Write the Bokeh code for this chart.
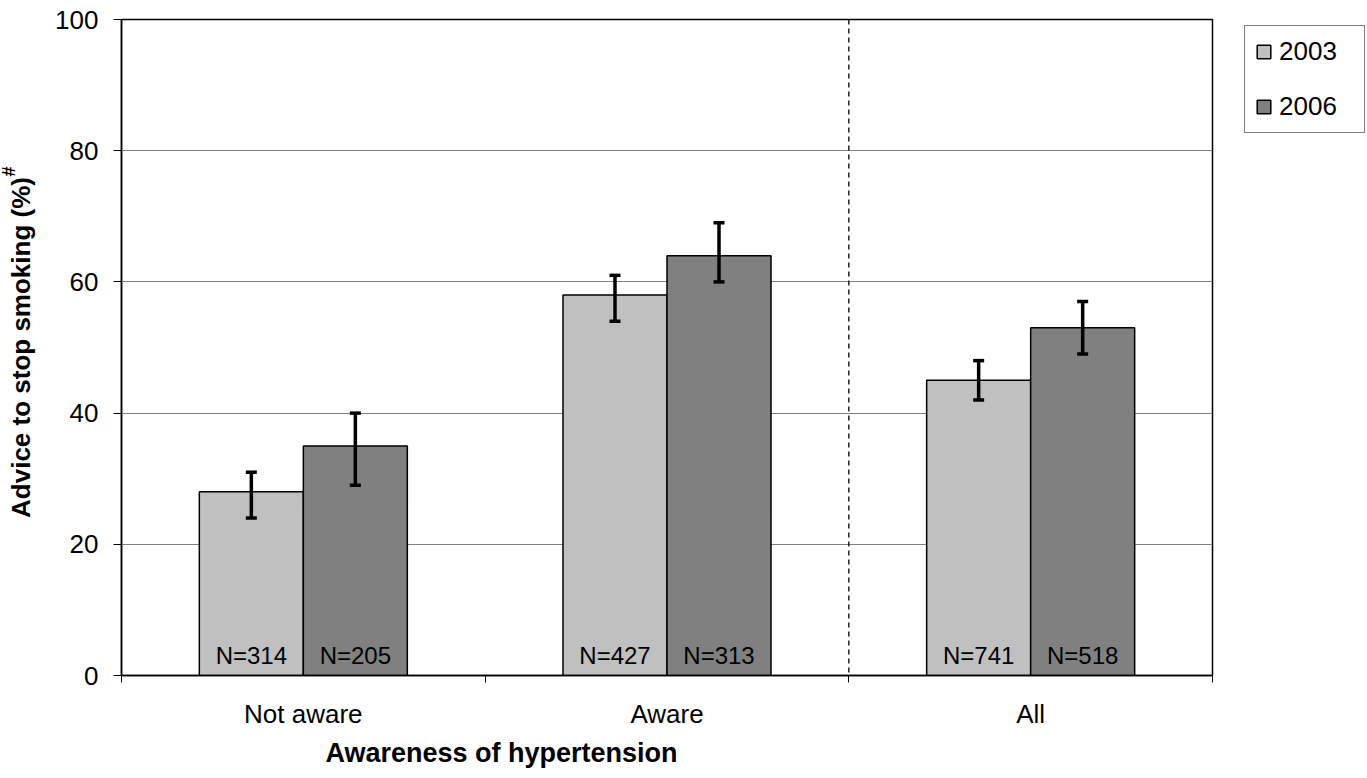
from bokeh.plotting import figure
from bokeh.models import (ColumnDataSource, Range1d, FixedTicker, Legend, LegendItem,
                          Whisker, Span, Title)
from bokeh.core.properties import value
from bokeh.embed import file_html
from bokeh.resources import INLINE

categories = ["Not aware", "Aware", "All"]
years = ["2003", "2006"]
values_2003 = [28, 58, 45]
values_2006 = [35, 64, 53]
lower_2003 = [24, 54, 42]
upper_2003 = [31, 61, 48]
lower_2006 = [29, 60, 49]
upper_2006 = [40, 69, 57]
n_2003 = ["N=314", "N=427", "N=741"]
n_2006 = ["N=205", "N=313", "N=518"]
y_ticks = [0, 20, 40, 60, 80, 100]
colors = ["#C0C0C0", "#808080"]

FONT = "Liberation Sans"

p = figure(frame_width=1091, frame_height=656, output_backend="svg", toolbar_location=None,
           x_range=Range1d(0, 3), y_range=Range1d(0, 100),
           min_border_left=121, min_border_top=19, min_border_bottom=100,
           min_border_right=154)
p.outline_line_color = "black"
p.outline_line_width = 1.5
p.background_fill_color = "white"
p.border_fill_color = "white"

centers = [i + 0.5 for i in range(len(categories))]
bw = 0.286
x03 = [c - bw / 2 for c in centers]
x06 = [c + bw / 2 for c in centers]

src03 = ColumnDataSource(dict(x=x03, top=values_2003, lo=lower_2003, hi=upper_2003, n=n_2003))
src06 = ColumnDataSource(dict(x=x06, top=values_2006, lo=lower_2006, hi=upper_2006, n=n_2006))

r03 = p.vbar(x="x", top="top", bottom=0, width=bw, source=src03,
             fill_color=colors[0], line_color="black", line_width=1.5)
r06 = p.vbar(x="x", top="top", bottom=0, width=bw, source=src06,
             fill_color=colors[1], line_color="black", line_width=1.5)

for src in (src03, src06):
    w = Whisker(base="x", lower="lo", upper="hi", source=src,
                line_color="black", line_width=3.5, level="overlay")
    w.upper_head.size = 11
    w.lower_head.size = 11
    w.upper_head.line_width = 3.5
    w.lower_head.line_width = 3.5
    p.add_layout(w)

for src in (src03, src06):
    p.text(x="x", y=0, text="n", source=src, text_align="center",
           text_baseline="bottom", y_offset=-7,
           text_font=value(FONT), text_font_size="24px", text_color="black")

p.add_layout(Span(location=2, dimension="height", line_color="black",
                  line_dash="5 4", line_width=1.3))

# x axis: labels at group centres, ticks at group boundaries
p.xaxis.ticker = FixedTicker(ticks=centers, minor_ticks=[0, 1, 2, 3])
p.xaxis.major_label_overrides = {c: cat for c, cat in zip(centers, categories)}
p.xaxis.major_tick_line_color = None
p.xaxis.minor_tick_out = 7
p.xaxis.minor_tick_in = 0
p.xaxis.minor_tick_line_color = "black"
p.xaxis.minor_tick_line_width = 1
p.xaxis.axis_line_color = "black"
p.xaxis.axis_line_width = 1.5
p.xaxis.major_label_text_font = FONT
p.xaxis.major_label_text_font_size = "26px"
p.xaxis.major_label_text_color = "black"
p.xaxis.major_label_standoff = 16

p.yaxis.ticker = FixedTicker(ticks=y_ticks)
p.yaxis.minor_tick_line_color = None
p.yaxis.major_tick_out = 8
p.yaxis.major_tick_in = 0
p.yaxis.major_tick_line_color = "black"
p.yaxis.axis_line_color = "black"
p.yaxis.axis_line_width = 1.5
p.yaxis.major_label_text_font = FONT
p.yaxis.major_label_text_font_size = "26px"
p.yaxis.major_label_text_color = "black"
p.yaxis.major_label_standoff = 15
p.yaxis.axis_label = "Advice to stop smoking (%)"
p.yaxis.axis_label_text_font = FONT
p.yaxis.axis_label_text_font_style = "bold"
p.yaxis.axis_label_text_font_size = "26px"
p.yaxis.axis_label_text_color = "black"
p.yaxis.axis_label_standoff = 16

p.xgrid.grid_line_color = None
p.ygrid.ticker = FixedTicker(ticks=y_ticks[1:-1])
p.ygrid.grid_line_color = "#808080"
p.ygrid.grid_line_width = 1

# superscript of the y title
p.add_layout(Title(text="#", align="right", offset=147, vertical_align="bottom",
                   text_font=FONT, text_font_style="bold", text_font_size="18px",
                   text_color="black", standoff=-30), "left")

# x title (left-aligned under first groups as in the reference)
p.add_layout(Title(text="Awareness of hypertension", align="left", offset=204,
                   vertical_align="bottom",
                   text_font=FONT, text_font_style="bold", text_font_size="27px",
                   text_color="black", standoff=8), "below")

legend = Legend(items=[LegendItem(label=years[0], renderers=[r03]),
                       LegendItem(label=years[1], renderers=[r06])],
                location=(32, 542), orientation="vertical")
legend.border_line_color = "black"
legend.border_line_width = 1
legend.background_fill_color = "white"
legend.label_text_font = FONT
legend.label_text_font_size = "26px"
legend.label_text_color = "black"
legend.glyph_width = 17
legend.glyph_height = 17
legend.label_height = 30
legend.label_width = 75
legend.spacing = 24
legend.padding = 10
legend.margin = 0
legend.label_standoff = 7
p.add_layout(legend, "right")

open("out.html", "w").write(file_html(p, INLINE))
